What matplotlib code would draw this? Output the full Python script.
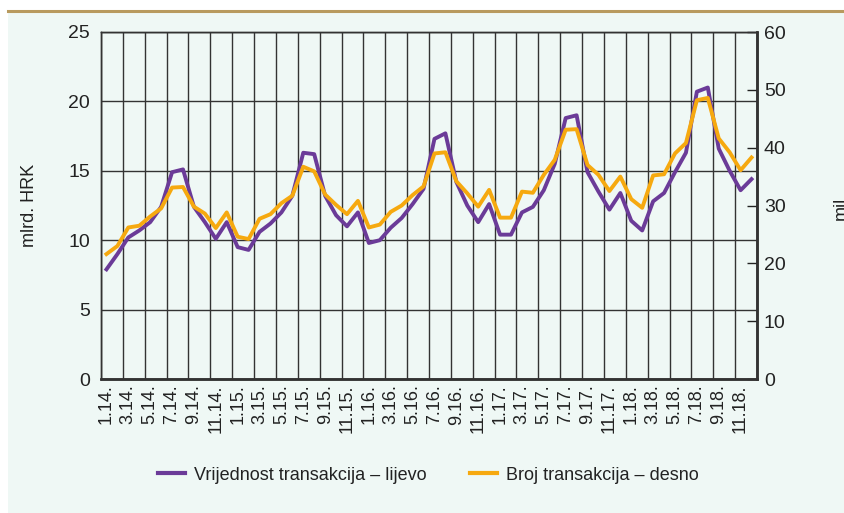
import matplotlib
matplotlib.use("Agg")
import matplotlib.pyplot as plt
from matplotlib.patches import Rectangle
from matplotlib.lines import Line2D

plt.rcParams['font.family'] = ['Liberation Sans', 'DejaVu Sans']

# data: monthly, 1.14. - 12.18.
vrijednost = [7.9, 9.0, 10.2, 10.7, 11.3, 12.4, 14.9, 15.1, 12.4, 11.3, 10.1, 11.3,
              9.5, 9.3, 10.6, 11.2, 12.0, 13.2, 16.3, 16.2, 13.2, 11.8, 11.0, 12.0,
              9.8, 10.0, 10.9, 11.6, 12.6, 13.7, 17.3, 17.7, 14.2, 12.5, 11.3, 12.6,
              10.4, 10.4, 12.0, 12.4, 13.6, 15.5, 18.8, 19.0, 14.9, 13.5, 12.2, 13.4,
              11.4, 10.7, 12.8, 13.4, 14.9, 16.3, 20.7, 21.0, 16.6, 15.0, 13.6, 14.4]
broj = [21.6, 23.0, 26.2, 26.5, 28.1, 29.5, 33.1, 33.2, 29.8, 28.6, 26.1, 28.8,
        24.6, 24.2, 27.7, 28.5, 30.4, 31.7, 36.7, 35.9, 31.9, 30.1, 28.5, 30.8,
        26.2, 26.7, 28.9, 30.0, 31.8, 33.3, 39.0, 39.2, 34.2, 32.1, 29.8, 32.7,
        27.9, 27.9, 32.4, 32.2, 35.3, 37.9, 43.1, 43.2, 37.0, 35.3, 32.5, 35.0,
        31.1, 29.6, 35.2, 35.4, 39.0, 40.8, 48.2, 48.6, 41.6, 39.2, 36.1, 38.3]
oznake = ["1.14.", "3.14.", "5.14.", "7.14.", "9.14.", "11.14.",
          "1.15.", "3.15.", "5.15.", "7.15.", "9.15.", "11.15.",
          "1.16.", "3.16.", "5.16.", "7.16.", "9.16.", "11.16.",
          "1.17.", "3.17.", "5.17.", "7.17.", "9.17.", "11.17.",
          "1.18.", "3.18.", "5.18.", "7.18.", "9.18.", "11.18."]

ljubicasta = "#6b3b98"
narancasta = "#f6a90f"
mreza = "#333333"
pozadina = "#eff8f5"
tekst = "#222222"
vel = 13

fig = plt.figure(figsize=(8.45, 5.13), dpi=100)
fig.patch.set_facecolor("white")
fig.patches.append(Rectangle((8 / 845, 0), 1, 1 - 12 / 513, transform=fig.transFigure,
                             facecolor=pozadina, edgecolor="none", zorder=-10))
fig.lines.append(Line2D([8 / 845, 1], [1 - 11 / 513, 1 - 11 / 513], transform=fig.transFigure,
                        color="#b89a5e", linewidth=2.2))

ax = fig.add_axes([101 / 845, 134 / 513, 656 / 845, 347 / 513])
ax.set_facecolor(pozadina)
x = list(range(len(vrijednost)))

ax.plot(x, vrijednost, color=ljubicasta, linewidth=2.8, zorder=3)
ax.set_xlim(-0.5, len(x) - 0.5)
ax.set_ylim(0, 25)
ax.set_yticks([0, 5, 10, 15, 20, 25])
ax.set_xticks(x[::2])
ax.set_xticklabels(oznake, rotation=90, fontsize=vel)
ax.tick_params(axis="x", length=0, pad=4, colors=tekst)
ax.tick_params(axis="y", length=0, pad=8, labelsize=14, colors=tekst)
ax.grid(False)
ax.yaxis.grid(True, color=mreza, linewidth=1)
# okomite linije mreze svaka dva mjeseca
for i in range(0, len(x) + 1, 2):
    ax.axvline(i - 0.5, color=mreza, linewidth=1, zorder=1)
ax.set_axisbelow(True)
ax.set_ylabel("mlrd. HRK", fontsize=vel, color=tekst)
ax.yaxis.set_label_coords(-0.096, 0.5)

ax2 = ax.twinx()
ax2.plot(x, broj, color=narancasta, linewidth=2.8, zorder=3)
ax2.set_ylim(0, 60)
ax2.set_yticks([0, 10, 20, 30, 40, 50, 60])
ax2.tick_params(axis="y", direction="in", length=7, width=1, pad=5, labelsize=14,
                colors=tekst)
ax2.set_ylabel("mil.", fontsize=vel, color=tekst)
ax2.yaxis.set_label_coords(1.116, 0.5)

for a in (ax, ax2):
    for s in ("top", "left"):
        a.spines[s].set_color(mreza)
        a.spines[s].set_linewidth(1)
    for s in ("bottom", "right"):
        a.spines[s].set_color(mreza)
        a.spines[s].set_linewidth(1.8)

rucke = [Line2D([], [], color=ljubicasta, linewidth=3),
         Line2D([], [], color=narancasta, linewidth=3)]
fig.legend(rucke, ["Vrijednost transakcija – lijevo", "Broj transakcija – desno"],
           loc="center", bbox_to_anchor=(0.507, 0.074), ncol=2, frameon=False,
           fontsize=vel, handlelength=1.5, handletextpad=0.5, columnspacing=2.4,
           labelcolor=tekst)

plt.savefig("out.png", dpi=100)
